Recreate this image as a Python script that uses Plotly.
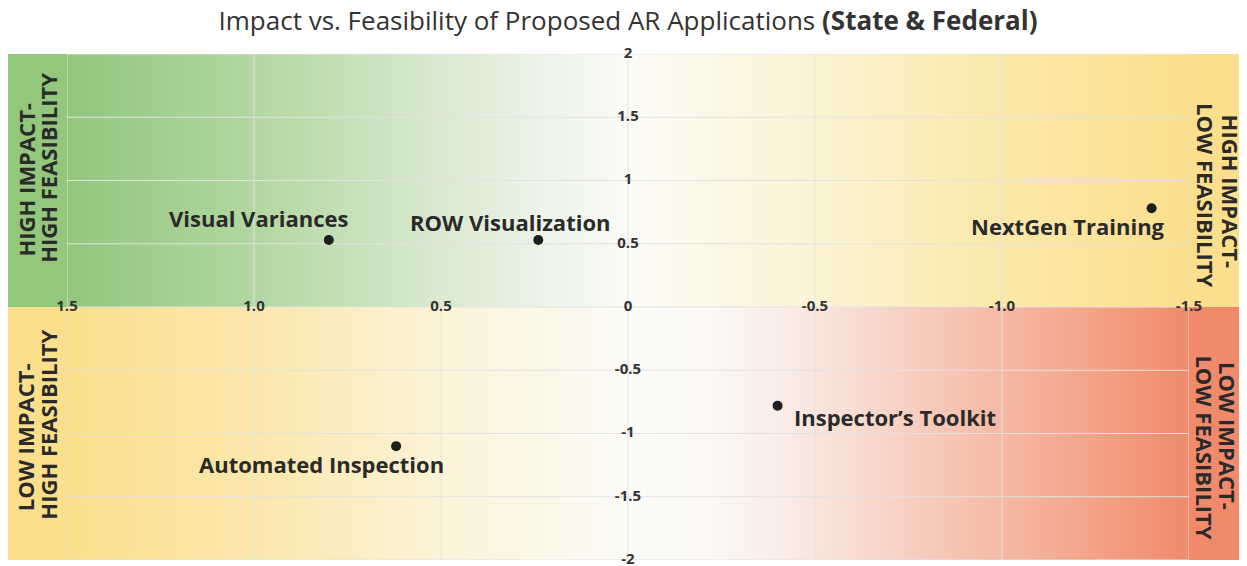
import plotly.graph_objects as go

# data
apps = ['Visual Variances', 'ROW Visualization', 'NextGen Training',
        "Inspector’s Toolkit", 'Automated Inspection']
feasibility = [0.80, 0.24, -1.40, -0.40, 0.62]
impact = [0.53, 0.53, 0.78, -0.78, -1.10]

x_ticks = [1.5, 1.0, 0.5, 0, -0.5, -1.0, -1.5]
x_tick_text = ['1.5', '1.0', '0.5', '0', '-0.5', '-1.0', '-1.5']
y_ticks = [2, 1.5, 1, 0.5, -0.5, -1, -1.5, -2]
y_tick_text = ['2', '1.5', '1', '0.5', '-0.5', '-1', '-1.5', '-2']

quadrant_lines = [['HIGH IMPACT-', 'HIGH FEASIBILITY'], ['HIGH IMPACT-', 'LOW FEASIBILITY'],
                  ['LOW IMPACT-', 'HIGH FEASIBILITY'], ['LOW IMPACT-', 'LOW FEASIBILITY']]

# label offsets (pixels) relative to each dot
label_dx = [-70, -28, -84, 117, -75]
label_dy = [22, 18, -18, -11, -18]

FONT = 'Open Sans'
TXT = '#2a2a2a'
GREEN = '#92c77c'
YELLOW = '#fbdf8c'
SALMON = '#f08a6b'

X_MAX, Y_MAX = 1.5, 2
PLOT_W = 1122

fig = go.Figure()


def add_quadrant(x_outer, y_edge, colorscale):
    # horizontal gradient runs left -> right on screen
    xs = [0, x_outer, x_outer, 0, 0]
    ys = [0, 0, y_edge, y_edge, 0]
    fig.add_trace(go.Scatter(x=xs, y=ys, mode='lines', line=dict(width=0),
                             fill='toself',
                             fillgradient=dict(type='horizontal', colorscale=colorscale),
                             hoverinfo='skip', showlegend=False))


add_quadrant(X_MAX, Y_MAX, [[0, GREEN], [0.35, '#b4d8a3'], [0.65, '#d7e9ce'],
                            [0.85, '#edf4e8'], [1, '#fafbf7']])
add_quadrant(-X_MAX, Y_MAX, [[0, '#fcfcf5'], [0.3, '#fcf4d8'], [0.65, '#fbe9ab'], [1, YELLOW]])
add_quadrant(X_MAX, -Y_MAX, [[0, YELLOW], [0.35, '#fbe8ae'], [0.7, '#fcf5dc'], [1, '#fbfbf6']])
add_quadrant(-X_MAX, -Y_MAX, [[0, '#fbfbf8'], [0.15, '#fbf8f5'], [0.28, '#faece6'],
                              [0.45, '#f8d6ca'], [0.65, '#f6bba7'], [0.8, '#f4a78d'],
                              [1, SALMON]])

# grid lines on top of the gradients
gx, gy = [], []
for t in x_ticks:
    gx += [t, t, None]
    gy += [-Y_MAX, Y_MAX, None]
for t in y_ticks + [0]:
    gx += [X_MAX, -X_MAX, None]
    gy += [t, t, None]
fig.add_trace(go.Scatter(x=gx, y=gy, mode='lines', line=dict(color='#e2e2e2', width=1),
                         hoverinfo='skip', showlegend=False))

# tick labels sitting on the zero lines
tick_font = dict(family=FONT, size=15, color='#333333', weight='bold')
fig.add_trace(go.Scatter(x=x_ticks, y=[0] * len(x_ticks), mode='text', text=x_tick_text,
                         textfont=tick_font, cliponaxis=False,
                         hoverinfo='skip', showlegend=False))
fig.add_trace(go.Scatter(x=[0] * len(y_ticks), y=y_ticks, mode='text', text=y_tick_text,
                         textfont=tick_font, cliponaxis=False,
                         hoverinfo='skip', showlegend=False))

# the applications
fig.add_trace(go.Scatter(x=feasibility, y=impact, mode='markers',
                         marker=dict(color='#1f1f1f', size=10),
                         text=apps, hoverinfo='text', showlegend=False))

for name, xv, yv, dx, dy in zip(apps, feasibility, impact, label_dx, label_dy):
    fig.add_annotation(x=xv, y=yv, text=name, showarrow=False, xshift=dx, yshift=dy,
                       font=dict(family=FONT, size=22, color=TXT, weight='bold'))

# side strips outside the plot area
strip_l = -59 / PLOT_W
strip_r = 1 + 58 / PLOT_W
for x0, x1, y0, y1, col in [(strip_l, 0, 0, Y_MAX, GREEN), (strip_l, 0, -Y_MAX, 0, YELLOW),
                            (1, strip_r, 0, Y_MAX, YELLOW), (1, strip_r, -Y_MAX, 0, SALMON)]:
    fig.add_shape(type='rect', xref='paper', yref='y', x0=x0, x1=x1, y0=y0, y1=y1,
                  fillcolor=col, line=dict(width=0), layer='below')

# one annotation per text line: (paper x, data y) of each line centre
line_pos = [[(-42 / PLOT_W, 1.00), (-19 / PLOT_W, 1.10)],
            [(1 + 42 / PLOT_W, 0.92), (1 + 17 / PLOT_W, 0.885)],
            [(-42 / PLOT_W, -1.03), (-19 / PLOT_W, -0.93)],
            [(1 + 39 / PLOT_W, -1.02), (1 + 16 / PLOT_W, -1.11)]]
angles = [-90, 90, -90, 90]
for lines, pos, ang in zip(quadrant_lines, line_pos, angles):
    for text, (px, py) in zip(lines, pos):
        fig.add_annotation(xref='paper', yref='y', x=px, y=py, text=text, showarrow=False,
                           textangle=ang, xanchor='center', yanchor='middle',
                           font=dict(family=FONT, size=22, color=TXT, weight='bold'))

fig.update_layout(
    width=1239, height=558,
    margin=dict(l=59, r=58, t=46, b=6),
    paper_bgcolor='white', plot_bgcolor='white',
    title=dict(text='Impact vs. Feasibility of Proposed AR Applications <b>(State &amp; Federal)</b>',
               x=0.5, xanchor='center', xref='paper', y=1 - 13 / 558, yanchor='middle',
               font=dict(family=FONT, size=26, color='#333333')),
    xaxis=dict(range=[X_MAX, -X_MAX], showgrid=False, zeroline=False, showticklabels=False,
               fixedrange=True),
    yaxis=dict(range=[-Y_MAX, Y_MAX], showgrid=False, zeroline=False, showticklabels=False,
               fixedrange=True),
    hovermode='closest',
)

fig.write_html('out.html')
